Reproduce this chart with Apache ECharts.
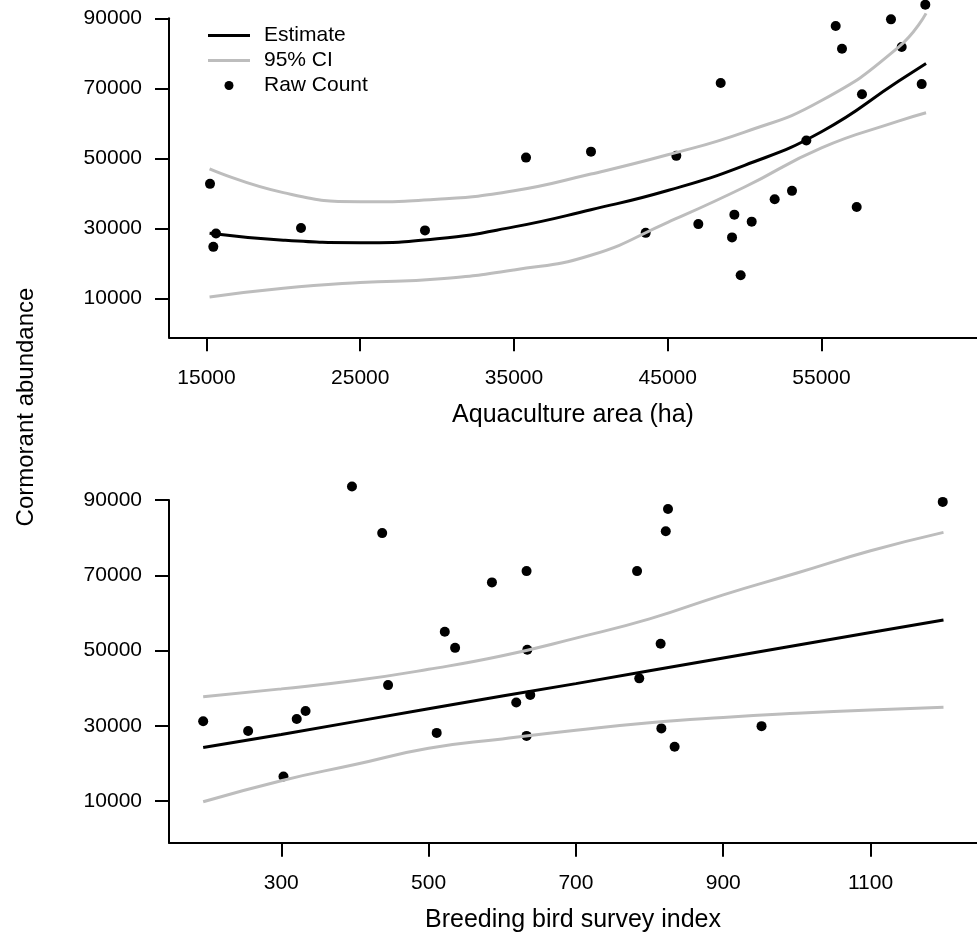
<!DOCTYPE html>
<html>
<head>
<meta charset="utf-8">
<script src="https://cdn.jsdelivr.net/npm/echarts@6/dist/echarts.min.js"></script>
<style>
  html, body { margin: 0; padding: 0; background: #fff; }
  #main { width: 977px; height: 935px; }
</style>
</head>
<body>
<div id="main"></div>
<script>
// raw counts vs aquaculture area (top panel)
const areaX = [15228, 15618, 15444, 21146, 29211, 35781, 40008, 45557, 48443, 43566,
  46989, 49333, 49181, 50460, 49743, 51955, 53081, 54013, 57289, 57634,
  55923, 56333, 59520, 60215, 61516, 61751];
const areaCount = [42700, 28500, 24700, 30100, 29400, 50200, 51900, 50700, 71500, 28700,
  31200, 33900, 27400, 31900, 16600, 38300, 40700, 55100, 36100, 68300,
  87800, 81300, 89700, 81800, 71200, 93900];

// fitted curve + 95% CI (top panel)
const areaFitX = [15200, 20000, 25000, 30000, 35000, 40000, 45000, 50000, 55000, 60000, 61800];
const areaEst = [28600, 26600, 25900, 27000, 30400, 35300, 40800, 48000, 57600, 72000, 77100];
const areaUpper = [47000, 40200, 37600, 38300, 40700, 45500, 51000, 57500, 66500, 81700, 91400];
const areaLower = [10400, 12900, 14500, 15500, 18100, 22300, 31700, 41800, 53000, 60600, 63000];

// raw counts vs breeding bird survey index (bottom panel)
const bbsX = [194, 255, 303, 321, 333, 396, 437, 445, 511, 522, 536, 586, 619,
  633, 634, 633, 638, 783, 786, 815, 816, 822, 825, 834, 952, 1198];
const bbsCount = [31200, 28600, 16500, 31800, 33900, 93600, 81200, 40800, 28100, 55000, 50700, 68100, 36200,
  71100, 50200, 27300, 38200, 71100, 42600, 51800, 29300, 81700, 87600, 24400, 29900, 89500];

const bbsFitX = [194, 300, 400, 500, 600, 700, 800, 900, 1000, 1100, 1199];
const bbsEst = [24200, 27700, 31100, 34500, 37900, 41200, 44600, 48000, 51400, 54800, 58100];
const bbsUpper = [37700, 39800, 42000, 45000, 48600, 53300, 58400, 64800, 70600, 76500, 81400];
const bbsLower = [9800, 15400, 19700, 24000, 26500, 28800, 30800, 32200, 33300, 34200, 34900];

// tick labels
const countTicks = [10000, 30000, 50000, 70000, 90000];
const areaTicks = [15000, 25000, 35000, 45000, 55000];
const bbsTicks = [300, 500, 700, 900, 1100];

const FONT = 'Liberation Sans, Arial, sans-serif';
const GREY = '#bdbdbd';
const LINE_ICON = 'path://M0,0L42,0L42,3L0,3Z';

const pairs = (xs, ys) => xs.map((x, i) => [x, ys[i]]);
const plain = v => String(v);

function xAxisFor(idx, min, max, ticks, title) {
  return {
    type: 'value', gridIndex: idx, min: min, max: max,
    name: title, nameLocation: 'middle', nameGap: 65,
    nameTextStyle: { color: '#000', fontSize: 25, fontFamily: FONT },
    splitLine: { show: false },
    axisLine: { onZero: false, lineStyle: { color: '#000', width: 2 } },
    axisTick: { customValues: ticks, length: 14, lineStyle: { color: '#000', width: 2 } },
    axisLabel: { customValues: ticks, formatter: plain, margin: 30, color: '#000', fontSize: 21, fontFamily: FONT }
  };
}

function yAxisFor(idx, min) {
  return {
    type: 'value', gridIndex: idx, min: min, max: 90000,
    splitLine: { show: false },
    axisLine: { show: true, onZero: false, lineStyle: { color: '#000', width: 2 } },
    axisTick: { show: true, customValues: countTicks, length: 14, lineStyle: { color: '#000', width: 2 } },
    axisLabel: { customValues: countTicks, formatter: plain, margin: 27, color: '#000', fontSize: 21, fontFamily: FONT }
  };
}

function lineSeries(name, idx, xs, ys, color, smooth) {
  return {
    name: name, type: 'line', xAxisIndex: idx, yAxisIndex: idx,
    data: pairs(xs, ys), symbol: 'none', showSymbol: false, smooth: smooth,
    clip: false, silent: true,
    lineStyle: { color: color, width: 3 }, itemStyle: { color: color }
  };
}

function dots(idx, xs, ys) {
  return {
    name: 'Raw Count', type: 'scatter', xAxisIndex: idx, yAxisIndex: idx,
    data: pairs(xs, ys), symbol: 'circle', symbolSize: 10, clip: false,
    itemStyle: { color: '#000', opacity: 1 }
  };
}

const chart = echarts.init(document.getElementById('main'));
chart.setOption({
  backgroundColor: '#fff',
  animation: false,
  textStyle: { fontFamily: FONT },
  grid: [
    { left: 169, top: 18.3, right: 0, height: 319 },
    { left: 169, top: 500, right: 0, height: 342.7 }
  ],
  legend: {
    orient: 'vertical', left: 203, top: 20,
    itemWidth: 42, itemHeight: 9, itemGap: 4,
    data: [
      { name: 'Estimate', icon: LINE_ICON },
      { name: '95% CI', icon: LINE_ICON },
      { name: 'Raw Count', icon: 'circle' }
    ],
    textStyle: { color: '#000', fontSize: 21, lineHeight: 21, fontFamily: FONT, padding: [0, 0, 0, 9] }
  },
  xAxis: [
    xAxisFor(0, 12561, 65114, areaTicks, 'Aquaculture area (ha)'),
    xAxisFor(1, 147.6, 1244.5, bbsTicks, 'Breeding bird survey index')
  ],
  yAxis: [yAxisFor(0, -1143), yAxisFor(1, -1083)],
  graphic: [{
    type: 'text', x: 26, y: 407, rotation: Math.PI / 2,
    style: { text: 'Cormorant abundance', fill: '#000', fontSize: 24, fontFamily: FONT,
      textAlign: 'center', textVerticalAlign: 'middle' }
  }],
  series: [
    lineSeries('95% CI', 0, areaFitX, areaUpper, GREY, true),
    lineSeries('95% CI', 0, areaFitX, areaLower, GREY, true),
    lineSeries('Estimate', 0, areaFitX, areaEst, '#000', true),
    dots(0, areaX, areaCount),
    lineSeries('95% CI', 1, bbsFitX, bbsUpper, GREY, true),
    lineSeries('95% CI', 1, bbsFitX, bbsLower, GREY, true),
    lineSeries('Estimate', 1, bbsFitX, bbsEst, '#000', false),
    dots(1, bbsX, bbsCount)
  ]
});
</script>
</body>
</html>
